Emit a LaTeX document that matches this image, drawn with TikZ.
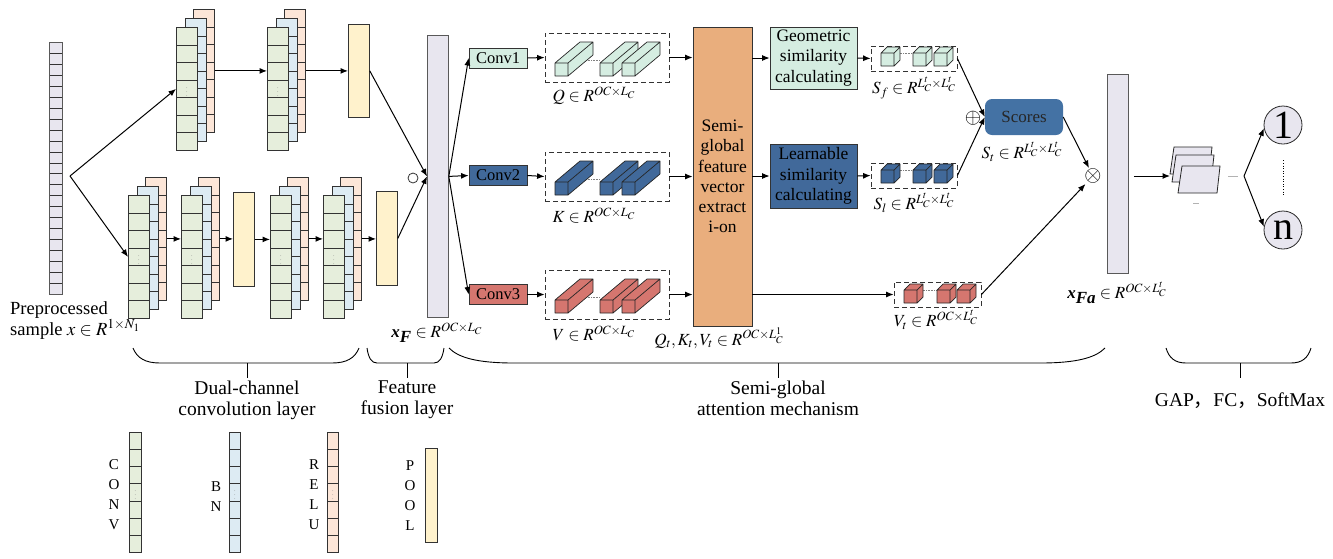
\documentclass[tikz,border=0pt]{standalone}
\usepackage{mathptmx}
\usepackage[no-math]{fontspec}
\setmainfont{Liberation Serif}
\newfontfamily\cjk{Noto Sans CJK SC}
\usepackage{tikz}
\usetikzlibrary{
  positioning,
  calc,
  arrows.meta
}
\definecolor{myLavender}{HTML}{E8E6EF}
\definecolor{convGreen}{HTML}{E6EEDC}
\definecolor{bnBlue}{HTML}{DDEBF3}
\definecolor{reluPeach}{HTML}{FCE6D8}
\definecolor{poolYellow}{HTML}{FFF2CC}
\definecolor{myMint}{HTML}{D5EDE1}
\definecolor{myNavy}{HTML}{41699A}
\definecolor{myRed}{HTML}{D5766F}
\definecolor{myOrange}{HTML}{E9AE7D}
\definecolor{myScore}{HTML}{4472A4}

\tikzstyle{arr}=[-{Latex[length=7.5pt,width=6pt]}, line width=1pt]
\tikzstyle{layer}=[draw=black!80, line width=0.8pt, inner sep=0pt, anchor=north west, minimum width=21pt, minimum height=123pt, text=gray, font=\fontsize{6}{6}\selectfont]
\tikzstyle{dbox}=[draw=black!80, dash pattern=on 5pt off 3pt, line width=0.8pt, minimum width=124pt, minimum height=49pt, inner sep=0pt]
\tikzstyle{sbox}=[dbox, minimum width=86pt, minimum height=25pt]
\tikzstyle{convbox}=[draw=black!80, line width=0.8pt, minimum width=58pt, minimum height=20pt, inner sep=0pt, font=\rmfamily\fontsize{16.5}{18}\selectfont]
\tikzstyle{simbox}=[draw=black!80, line width=0.8pt, minimum width=87pt, inner sep=0pt, align=center, font=\rmfamily\fontsize{17.5}{20.5}\selectfont]
\tikzstyle{mathlbl}=[inner sep=0pt, font=\rmfamily\fontsize{17}{20}\selectfont]
\tikzstyle{bracelbl}=[below, align=center, inner sep=3pt, font=\rmfamily\fontsize{19.5}{21}\selectfont]
\tikzstyle{legendtxt}=[align=center, inner sep=0pt, font=\rmfamily\fontsize{15}{20}\selectfont]
\tikzset{cells/.style={path picture={
  \foreach \k in {1,...,#1}
    \draw[black!80, line width=0.8pt] ($(path picture bounding box.north west)!\k/(#1+1)!(path picture bounding box.south west)$) -- ++(40,0);}}}

% CONV, BN, RELU の3層を重ねたブロック
\newcommand{\convstack}[2]{%
  \node[layer, cells=6, fill=reluPeach] (#1r) at ($(#2)+(17,-18)$) {};
  \node[layer, cells=6, fill=bnBlue] (#1b) at ($(#2)+(8.5,-9)$) {};
  \node[layer, cells=6, fill=convGreen] (#1g) at (#2) {$\vdots$};
}
% 直方体 (#1,#2: 前面の左下, #3: 一辺, #4,#5: 奥行き, #6: 色)
\newcommand{\cuboid}[6]{%
  \filldraw[fill=#6, draw=black!85, line width=0.7pt, line join=round]
    (#1,#2) -- ++(#3,0) -- ++(0,-#3) -- ++(-#3,0) -- cycle
    (#1,#2) ++(0,-#3) -- ++(#4,-#5) -- ++(#3,0) -- ++(-#4,#5) -- cycle
    (#1,#2) ++(#3,0) -- ++(#4,-#5) -- ++(0,-#3) -- ++(-#4,#5) -- cycle;
}
% 下の括弧 (#1: 左端, #2: 右端, #3: 軸, #4: 曲がり, #5: 名前)
\newcommand{\layerbrace}[5]{%
  \draw[line width=0.9pt] (#1,348) .. controls (#1+0.15*#4,358) and (#1+0.45*#4,363) .. (#1+#4,363)
    -- (#2-#4,363) .. controls (#2-0.45*#4,363) and (#2-0.15*#4,358) .. (#2,348);
  \draw[line width=0.9pt] (#3,363) -- (#3,378) coordinate (#5);
}

\begin{document}
\begin{tikzpicture}[x=1pt, y=-1pt, font=\rmfamily\fontsize{17}{20}\selectfont]
  \useasboundingbox (0,0) rectangle (1333,558);

  % 入力サンプル
  \node[layer, cells=22, fill=myLavender, draw=black!65, minimum width=13pt, minimum height=252pt] (inp) at (49,42) {};
  \node[anchor=west, align=left, inner sep=0pt, font=\rmfamily\fontsize{18.5}{21}\selectfont] (inlbl) at (10,320.5)
    {Preprocessed\\sample $x\in R^{1\times N_1}$};
  \coordinate (split) at (70,176);

  % 二つのチャネル
  \coordinate (T1) at (176,27);
  \coordinate (T2) at (267,27);
  \coordinate (B1) at (128,195);
  \coordinate (B2) at (181,195);
  \coordinate (B3) at (270,195);
  \coordinate (B4) at (323,195);
  \convstack{t1}{T1}
  \convstack{t2}{T2}
  \convstack{b1}{B1}
  \convstack{b2}{B2}
  \convstack{b3}{B3}
  \convstack{b4}{B4}
  \node[layer, fill=poolYellow, minimum height=93pt] (tp) at (348,24) {};
  \node[layer, fill=poolYellow, minimum height=94pt] (bp1) at (233,192) {};
  \node[layer, fill=poolYellow, minimum height=94pt] (bp2) at (376,191) {};

  \draw[arr] (split) -- (t1g.west);
  \draw[arr] (split) -- (b1g.west);
  \draw[arr] (t1r.east) -- (t1r.east -| t2g.west);
  \draw[arr] (t2r.east) -- (t2r.east -| tp.west);
  \draw[arr] (b1r.east) -- (b1r.east -| b2g.west);
  \draw[arr] (b2r.east) -- (b2r.east -| bp1.west);
  \draw[arr] (bp1.east) -- (bp1.east -| b3g.west);
  \draw[arr] (b3r.east) -- (b3r.east -| b4g.west);
  \draw[arr] (b4r.east) -- (b4r.east -| bp2.west);

  % 特徴融合
  \node[layer, fill=myLavender, draw=black!65, minimum height=282pt] (xF) at (427,35) {};
  \node[circle, draw=black!80, line width=0.8pt, minimum size=10pt, inner sep=0pt] (cat) at (413,178) {};
  \draw[arr] (tp.east) -- (xF.west);
  \draw[arr] (bp2.east) -- (xF.west);
  \node[mathlbl] (xflbl) at (437,333) {$\textbf{\textit{x}}_{\textbf{\textit{F}}}\in R^{OC\times L_C}$};

  % Q, K, V
  \node[convbox, fill=myMint] (conv1) at (498,58) {Conv1};
  \node[convbox, fill=myNavy] (conv2) at (498,175.5) {Conv2};
  \node[convbox, fill=myRed] (conv3) at (498,294.5) {Conv3};
  \draw[arr] (xF.east) -- (conv1.west);
  \draw[arr] (xF.east) -- (conv2.west);
  \draw[arr] (xF.east) -- (conv3.west);

  \node[dbox] (qbox) at (607,57.5) {};
  \node[dbox] (kbox) at (607,176.5) {};
  \node[dbox] (vbox) at (607,294.5) {};
  \foreach \y/\c in {76/myMint, 195/myNavy, 313/myRed} {
    \draw[densely dotted, gray, line width=0.6pt] (575,\y-16) -- (600,\y-16);
    \cuboid{555}{\y}{13}{25}{21}{\c}
    \cuboid{600}{\y}{13}{25}{21}{\c}
    \cuboid{622}{\y}{13}{25}{21}{\c}
  }
  \node[mathlbl] (qlbl) at (594,96) {$Q\in R^{OC\times L_C}$};
  \node[mathlbl] (klbl) at (594,216) {$K\in R^{OC\times L_C}$};
  \node[mathlbl] (vlbl) at (594,334) {$V\in R^{OC\times L_C}$};
  \draw[arr] (conv1.east) -- (qbox.west);
  \draw[arr] (conv2.east) -- (kbox.west);
  \draw[arr] (conv3.east) -- (vbox.west);

  % 半大域特徴ベクトル抽出
  \node[draw=black!80, line width=0.8pt, fill=myOrange, minimum width=59pt, minimum height=299pt, inner sep=0pt,
    align=center, font=\rmfamily\fontsize{17.5}{20.2}\selectfont] (semi) at (722.5,176.5)
    {Semi-\\global\\feature\\vector\\extract\\i-on};
  \draw[arr] (qbox.east) -- (qbox.east -| semi.west);
  \draw[arr] (kbox.east) -- (kbox.east -| semi.west);
  \draw[arr] (vbox.east) -- (vbox.east -| semi.west);
  \node[mathlbl] (qkvlbl) at (719,338) {$Q_t,K_t,V_t\in R^{OC\times L^1_C}$};

  % 類似度
  \node[simbox, fill=myMint, minimum height=62pt] (geo) at (813.5,58) {Geometric\\similarity\\calculating};
  \node[simbox, fill=myNavy, minimum height=64pt] (learn) at (813.5,176) {Learnable\\similarity\\calculating};
  \draw[arr] (semi.east |- geo.west) -- (geo.west);
  \draw[arr] (semi.east |- learn.west) -- (learn.west);

  \node[sbox] (sfbox) at (914,58.5) {};
  \node[sbox] (slbox) at (914,175.5) {};
  \node[sbox, minimum width=87pt] (vtbox) at (937.5,294.5) {};
  \foreach \y/\c in {66/myMint, 183/myNavy} {
    \draw[densely dotted, gray, line width=0.6pt] (895,\y-13) -- (913,\y-13);
    \cuboid{881}{\y}{13}{6}{6}{\c}
    \cuboid{913}{\y}{13}{6}{6}{\c}
    \cuboid{934}{\y}{13}{6}{6}{\c}
  }
  \draw[densely dotted, gray, line width=0.6pt] (918,290) -- (937,290);
  \cuboid{904}{303}{13}{6}{6}{myRed}
  \cuboid{937}{303}{13}{6}{6}{myRed}
  \cuboid{957}{303}{13}{6}{6}{myRed}
  \node[mathlbl] (sflbl) at (914,88) {$S_f\in R^{L^t_C\times L^t_C}$};
  \node[mathlbl] (sllbl) at (914,203) {$S_l\in R^{L^t_C\times L^t_C}$};
  \node[mathlbl] (vtlbl) at (936,320) {$V_t\in R^{OC\times L^t_C}$};
  \draw[arr] (geo.east) -- (sfbox.west);
  \draw[arr] (learn.east) -- (slbox.west);
  \draw[arr] (semi.east |- vtbox.west) -- (vtbox.west);

  % スコア
  \node[fill=myScore, rounded corners=7pt, minimum width=78pt, minimum height=36pt, inner sep=0pt,
    text=black!85, font=\rmfamily\fontsize{17}{20}\selectfont] (scores) at (1024,117) {Scores};
  \node[mathlbl] (stlbl) at (1022,152) {$S_t\in R^{L^t_C\times L^t_C}$};
  \draw[arr] (sfbox.east) -- (scores.west);
  \draw[arr] (slbox.east) -- (scores.west);
  \node[inner sep=0pt, font=\fontsize{21}{21}\selectfont] (plus) at (973,118) {$\oplus$};

  \node[inner sep=0.5pt, font=\fontsize{22}{22}\selectfont] (mul) at (1093,176) {$\otimes$};
  \draw[arr] (scores.east) -- (mul);
  \draw[arr] (vtbox.east) -- (mul);

  % 出力
  \node[layer, fill=myLavender, draw=black!65, minimum height=199pt] (xFa) at (1107,74) {};
  \node[mathlbl] (xfalbl) at (1117,293) {$\textbf{\textit{x}}_{\textbf{\textit{Fa}}}\in R^{OC\times L^t_C}$};
  \coordinate (gapin) at (1170,176);
  \draw[arr] ($(xFa.east |- gapin)+(5,0)$) -- (gapin);
  \foreach \p in {(1170,174), (1172,182), (1178,193)}
    \filldraw[fill=myLavender, draw=black!85, line width=0.8pt] \p -- ++(4,-27) -- ++(38,0) -- ++(-3,27) -- cycle;
  \draw[gray!60, line width=0.6pt] (1228,176) -- (1238,176);
  \draw[gray!60, line width=0.6pt] (1193,203) -- (1199,203);

  \node[circle, draw=black!85, line width=0.8pt, fill=myLavender, minimum size=38pt, inner sep=0pt,
    font=\rmfamily\fontsize{40}{40}\selectfont] (o1) at (1283,125) {1};
  \node[circle, draw=black!85, line width=0.8pt, fill=myLavender, minimum size=38pt, inner sep=0pt,
    font=\rmfamily\fontsize{40}{40}\selectfont] (on) at (1283,230) {n};
  \coordinate (fork) at (1244,176);
  \draw[arr] (fork) -- (o1.190);
  \draw[arr] (fork) -- (on.170);
  \draw[dotted, line width=0.6pt] ($(o1.south)+(0,16)$) -- ($(on.north)+(0,-14)$);

  % 括弧と説明
  \layerbrace{133}{359}{247}{27}{dcb}
  \layerbrace{367}{444}{407}{10}{ffb}
  \layerbrace{449}{1105}{778}{65}{sgb}
  \layerbrace{1166}{1311}{1240}{20}{gapb}
  \node[bracelbl] (dcl) at (dcb) {Dual-channel\\convolution layer};
  \node[bracelbl] (ffl) at (ffb) {Feature\\fusion layer};
  \node[bracelbl] (sgl) at (sgb) {Semi-global\\attention mechanism};
  \node[bracelbl, yshift=-12pt] (gapl) at (gapb) {GAP{\cjk ，}FC{\cjk ，}SoftMax};

  % 凡例
  \node[layer, cells=6, fill=convGreen, minimum width=12pt, minimum height=120pt] (lconv) at (129,432) {$\vdots$};
  \node[layer, cells=6, fill=bnBlue, minimum width=11pt, minimum height=120pt] (lbn) at (229,432) {$\vdots$};
  \node[layer, cells=6, fill=reluPeach, minimum width=11pt, minimum height=120pt] (lrelu) at (327,432) {$\vdots$};
  \node[layer, fill=poolYellow, minimum width=12pt, minimum height=94pt] (lpool) at (425,448) {};
  \node[legendtxt] (lconvt) at (114,494.5) {C\\O\\N\\V};
  \node[legendtxt] (lbnt) at (216,496.5) {B\\N};
  \node[legendtxt] (lrelut) at (314,495) {R\\E\\L\\U};
  \node[legendtxt] (lpoolt) at (410,495.5) {P\\O\\O\\L};
\end{tikzpicture}
\end{document}
